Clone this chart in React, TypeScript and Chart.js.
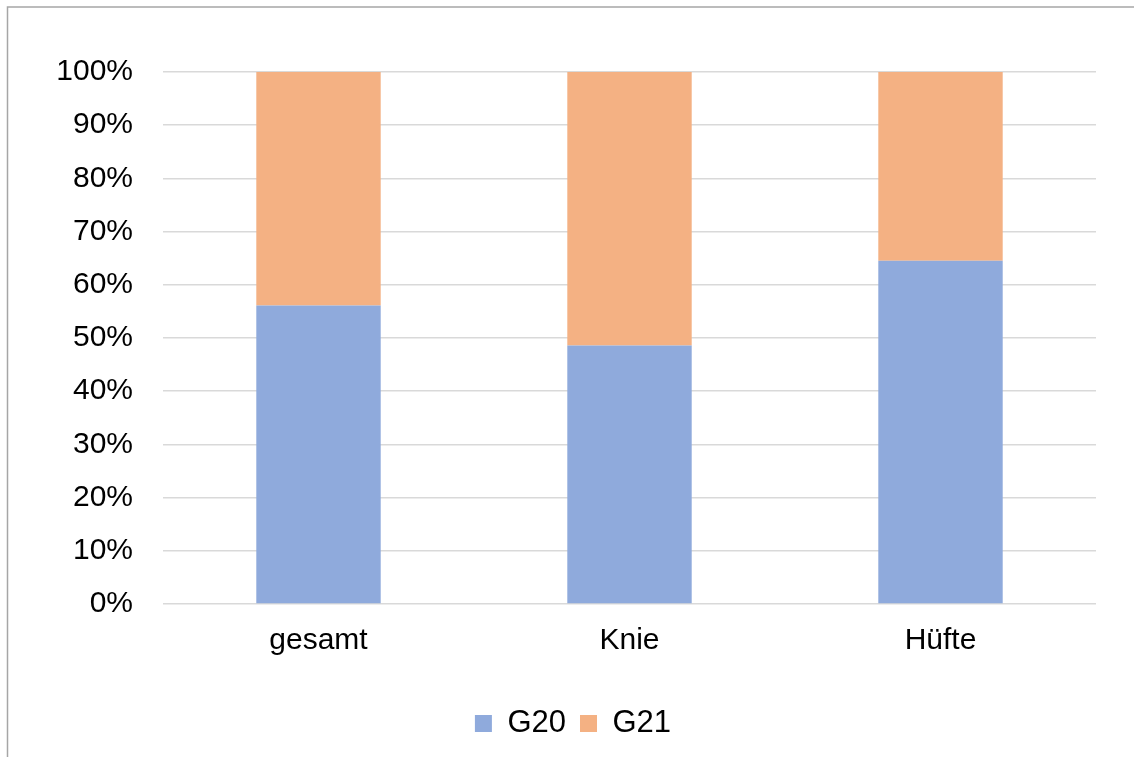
import React, { useEffect, useRef } from "react";
import { Chart, registerables } from "chart.js";

Chart.register(...registerables);

const categories = ["gesamt", "Knie", "Hüfte"];
const g20Values = [56.1, 48.6, 64.5];
const g21Values = [43.9, 51.4, 35.5];
const seriesNames = ["G20", "G21"];
const yTicks = [0, 10, 20, 30, 40, 50, 60, 70, 80, 90, 100];

const FONT = "'Liberation Sans', Arial, sans-serif";

const frame = {
  id: "frame",
  beforeDraw(chart: any) {
    const ctx = chart.ctx;
    ctx.save();
    ctx.fillStyle = "#ffffff";
    ctx.fillRect(0, 0, chart.width, chart.height);
    ctx.strokeStyle = "#a6a6a6";
    ctx.lineWidth = 1.5;
    ctx.beginPath();
    ctx.moveTo(7.5, chart.height);
    ctx.lineTo(7.5, 7);
    ctx.lineTo(chart.width, 7);
    ctx.stroke();
    ctx.restore();
  },
};

export default function App() {
  const ref = useRef<HTMLCanvasElement>(null);
  useEffect(() => {
    if (!ref.current) return;
    const chart = new Chart(ref.current, {
      type: "bar",
      data: {
        labels: categories,
        datasets: [
          {
            label: seriesNames[0],
            data: g20Values,
            backgroundColor: "#8FAADC",
            barPercentage: 0.4,
            categoryPercentage: 1,
          },
          {
            label: seriesNames[1],
            data: g21Values,
            backgroundColor: "#F4B183",
            barPercentage: 0.4,
            categoryPercentage: 1,
          },
        ],
      },
      options: {
        animation: false,
        responsive: true,
        maintainAspectRatio: false,
        layout: { padding: { left: 50, right: 38, top: 72, bottom: 8 } },
        plugins: {
          tooltip: { enabled: false },
          legend: {
            position: "bottom",
            labels: {
              boxWidth: 17,
              boxHeight: 17,
              padding: 14,
              color: "#000",
              font: { family: FONT, size: 31 },
            },
          },
        },
        scales: {
          x: {
            stacked: true,
            grid: { display: false, drawTicks: false },
            border: { display: false },
            ticks: { color: "#000", padding: 19, font: { family: FONT, size: 30 } },
            afterFit: (s: any) => {
              s.height = 90;
            },
          },
          y: {
            stacked: true,
            min: 0,
            max: 100,
            afterBuildTicks: (s: any) => {
              s.ticks = yTicks.map((v) => ({ value: v }));
            },
            grid: { color: "#d9d9d9", lineWidth: 1.5, drawTicks: false },
            border: { display: false },
            ticks: {
              color: "#000",
              padding: 30,
              font: { family: FONT, size: 30 },
              callback: (v: any) => v + "%",
            },
            afterFit: (s: any) => {
              s.width = 113;
            },
          },
        },
      },
      plugins: [frame],
    });
    return () => chart.destroy();
  }, []);
  return (
    <div style={{ position: "absolute", left: 0, top: 0, width: 1134, height: 757 }}>
      <canvas ref={ref} />
    </div>
  );
}
